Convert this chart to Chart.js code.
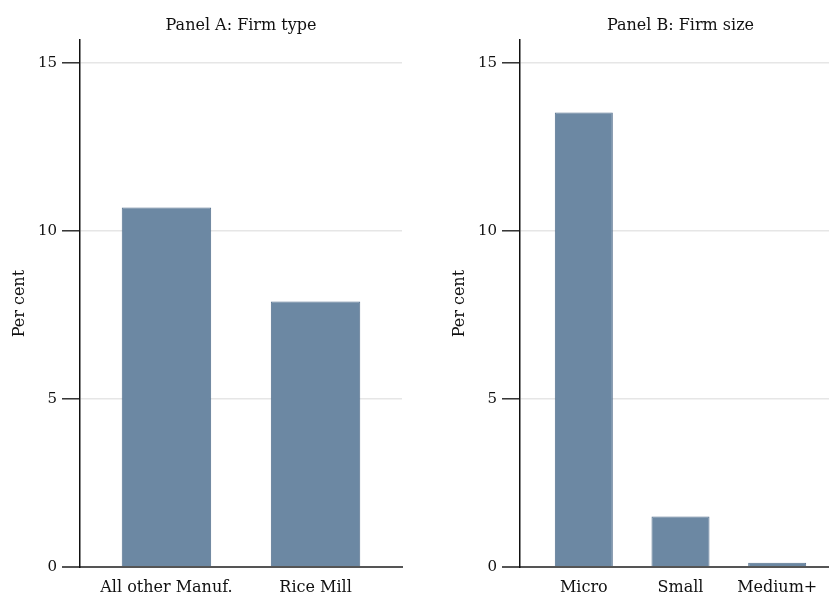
<!DOCTYPE html>
<html>
<head>
<meta charset="utf-8">
<script src="https://cdn.jsdelivr.net/npm/chart.js@4/dist/chart.umd.min.js"></script>
<style>
  html, body { margin: 0; padding: 0; background: #fff; overflow: hidden; width: 829px; height: 594px; }
  .panel { position: absolute; top: 0; height: 594px; }
  #wrapA { left: 0; width: 415px; }
  #wrapB { left: 440px; width: 440px; }
</style>
</head>
<body>
<div class="panel" id="wrapA"><canvas id="panelA" width="415" height="594"></canvas></div>
<div class="panel" id="wrapB"><canvas id="panelB" width="440" height="594"></canvas></div>
<script>
// Share of firms, per cent
const firmTypes = ['All other Manuf.', 'Rice Mill'];
const firmTypeValues = [10.70, 7.90];

const firmSizes = ['Micro', 'Small', 'Medium+'];
const firmSizeValues = [13.53, 1.50, 0.13];

const yTicks = [0, 5, 10, 15];
const panelTitles = ['Panel A: Firm type', 'Panel B: Firm size'];
const yAxisTitle = 'Per cent';

const FONT = "'DejaVu Serif', 'Liberation Serif', serif";
const BAR_FILL = '#6c88a3';
const BAR_EDGE = '#54708e';

function makePanel(canvasId, title, labels, values, xMin, xMax, padRight) {
  const points = values.map((v, i) => ({ x: i, y: v }));
  return new Chart(document.getElementById(canvasId), {
    type: 'bar',
    data: {
      datasets: [{
        data: points,
        backgroundColor: BAR_FILL,
        borderColor: BAR_EDGE,
        borderWidth: 1,
        categoryPercentage: 1,
        barPercentage: 0.6
      }]
    },
    options: {
      responsive: false,
      animation: false,
      layout: { padding: { left: 0, right: padRight, top: 0, bottom: 0 } },
      plugins: {
        legend: { display: false },
        tooltip: { enabled: false },
        title: {
          display: true,
          text: title,
          fullSize: false,
          color: '#111',
          font: { family: FONT, size: 16, weight: 'normal' },
          padding: { top: 16, bottom: 5 }
        }
      },
      scales: {
        x: {
          type: 'linear',
          min: xMin,
          max: xMax,
          offset: false,
          afterBuildTicks: s => { s.ticks = labels.map((_, i) => ({ value: i })); },
          afterFit: s => { s.height = 27; },
          grid: { display: false, drawTicks: false },
          border: { display: true, color: '#555', width: 2 },
          ticks: {
            autoSkip: false,
            maxRotation: 0,
            padding: 11,
            color: '#111',
            font: { family: FONT, size: 16 },
            callback: v => labels[v]
          }
        },
        y: {
          min: 0,
          max: 15.68,
          afterBuildTicks: s => { s.ticks = yTicks.map(v => ({ value: v })); },
          afterFit: s => { s.width = 80; },
          grid: {
            drawOnChartArea: true,
            tickLength: 18,
            color: c => c.tick && c.tick.value === 0 ? '#555' : '#e6e6e6',
            tickColor: c => c.tick && c.tick.value === 0 ? '#555' : '#222',
            lineWidth: c => c.tick && c.tick.value === 0 ? 2 : 1.6,
            tickWidth: c => c.tick && c.tick.value === 0 ? 2 : 1.4
          },
          border: { display: true, color: '#111', width: 1.5 },
          ticks: {
            padding: 5,
            color: '#111',
            font: { family: FONT, size: 15 },
            callback: v => String(v)
          },
          title: {
            display: true,
            text: yAxisTitle,
            color: '#111',
            font: { family: FONT, size: 16 },
            padding: { top: 10, bottom: 0 }
          }
        }
      }
    }
  });
}

makePanel('panelA', panelTitles[0], firmTypes, firmTypeValues, -0.58, 1.58, 13);
makePanel('panelB', panelTitles[1], firmSizes, firmSizeValues, -0.66, 2.66, 39);
</script>
</body>
</html>
